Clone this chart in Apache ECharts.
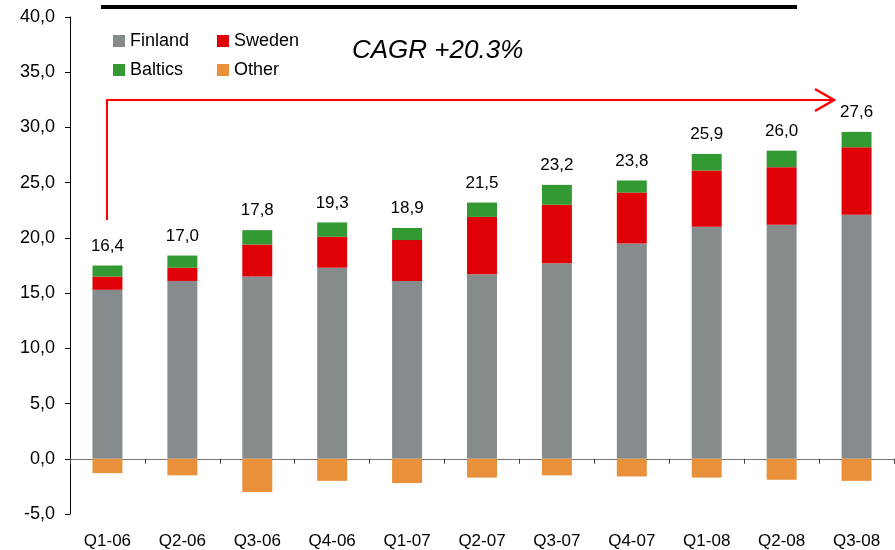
<!DOCTYPE html>
<html>
<head>
<meta charset="utf-8">
<title>Quarterly sales by region</title>
<script src="https://cdn.jsdelivr.net/npm/echarts@6/dist/echarts.min.js"></script>
<style>
    html, body {
        margin: 0;
        padding: 0;
        background: #fff;
    }
    #chart {
        width: 895px;
        height: 550px;
    }
</style>
</head>
<body>
<div id="chart"></div>
<script>
// --- data ---
const quarters = ['Q1-06', 'Q2-06', 'Q3-06', 'Q4-06', 'Q1-07', 'Q2-07', 'Q3-07', 'Q4-07', 'Q1-08', 'Q2-08', 'Q3-08']
const finland = [15.3, 16.1, 16.5, 17.3, 16.1, 16.7, 17.7, 19.5, 21.0, 21.2, 22.1]
const sweden = [1.2, 1.2, 2.9, 2.8, 3.7, 5.2, 5.3, 4.6, 5.1, 5.2, 6.1]
const baltics = [1.0, 1.1, 1.3, 1.3, 1.1, 1.3, 1.8, 1.1, 1.5, 1.5, 1.4]
const other = [-1.3, -1.5, -3.0, -2.0, -2.2, -1.7, -1.5, -1.6, -1.7, -1.9, -2.0]
const totals = ['16,4', '17,0', '17,8', '19,3', '18,9', '21,5', '23,2', '23,8', '25,9', '26,0', '27,6']
const cagrText = 'CAGR +20.3%'

const font = "'Liberation Sans', Arial, sans-serif"
const colors = {
    finland: '#868c8d',
    sweden: '#e00008',
    baltics: '#339933',
    other: '#e8913a',
}

const chart = echarts.init(document.getElementById('chart'))

// one legend per item, the original has a 2x2 block
const legendItem = (name, left, top) => ({
    data: [name],
    left: left,
    top: top,
    padding: 0,
    icon: 'rect',
    itemWidth: 12,
    itemHeight: 12,
    selectedMode: false,
    textStyle: {
        fontFamily: font,
        fontSize: 18,
        lineHeight: 20,
        color: '#000',
    },
})

const barSeries = (name, data, color) => ({
    name: name,
    type: 'bar',
    stack: 'total',
    data: data,
    barWidth: '40%',
    itemStyle: { color: color },
})

const option = {
    animation: false,
    backgroundColor: '#fff',
    grid: {
        left: 70,
        right: 1,
        top: 17,
        bottom: 36,
    },
    legend: [
        legendItem('Finland', 113, 31),
        legendItem('Sweden', 217, 31),
        legendItem('Baltics', 113, 60),
        legendItem('Other', 217, 60),
    ],
    xAxis: [
        {
            // line + ticks sit on the zero line
            type: 'category',
            data: quarters,
            axisLine: {
                onZero: true,
                lineStyle: { color: '#777', width: 1 },
            },
            axisTick: {
                show: true,
                length: 5,
                lineStyle: { color: '#444' },
            },
            axisLabel: { show: false },
            splitLine: { show: false },
        },
        {
            // labels sit at the bottom of the plot
            type: 'category',
            data: quarters,
            position: 'bottom',
            axisLine: { show: false, onZero: false },
            axisTick: { show: false },
            axisLabel: {
                interval: 0,
                margin: 19,
                fontFamily: font,
                fontSize: 17,
                color: '#000',
            },
        },
    ],
    yAxis: {
        type: 'value',
        min: -5,
        max: 40,
        interval: 5,
        axisLine: {
            show: true,
            lineStyle: { color: '#000', width: 1 },
        },
        axisTick: {
            show: true,
            length: 5,
            lineStyle: { color: '#000' },
        },
        splitLine: { show: false },
        axisLabel: {
            margin: 15,
            fontFamily: font,
            fontSize: 18,
            color: '#000',
            formatter: v => v.toFixed(1).replace('.', ','),
        },
    },
    series: [
        barSeries('Finland', finland, colors.finland),
        barSeries('Sweden', sweden, colors.sweden),
        Object.assign(barSeries('Baltics', baltics, colors.baltics), {
            label: {
                show: true,
                position: 'top',
                distance: 11,
                fontFamily: font,
                fontSize: 17,
                color: '#000',
                formatter: p => totals[p.dataIndex],
            },
        }),
        barSeries('Other', other, colors.other),
    ],
    graphic: [
        {
            type: 'rect',
            shape: { x: 101, y: 5, width: 696, height: 4 },
            style: { fill: '#000' },
        },
        {
            type: 'text',
            left: 352,
            top: 38,
            style: {
                text: cagrText,
                fontFamily: font,
                fontSize: 26,
                fontStyle: 'italic',
                fill: '#000',
            },
        },
        {
            type: 'polyline',
            shape: { points: [[107, 220], [107, 100], [833, 100]] },
            style: { stroke: '#ff0000', lineWidth: 2, fill: null },
        },
        {
            type: 'polyline',
            shape: { points: [[815, 89], [834, 100], [815, 111]] },
            style: { stroke: '#ff0000', lineWidth: 2.5, fill: null },
        },
    ],
}

chart.setOption(option)
</script>
</body>
</html>
